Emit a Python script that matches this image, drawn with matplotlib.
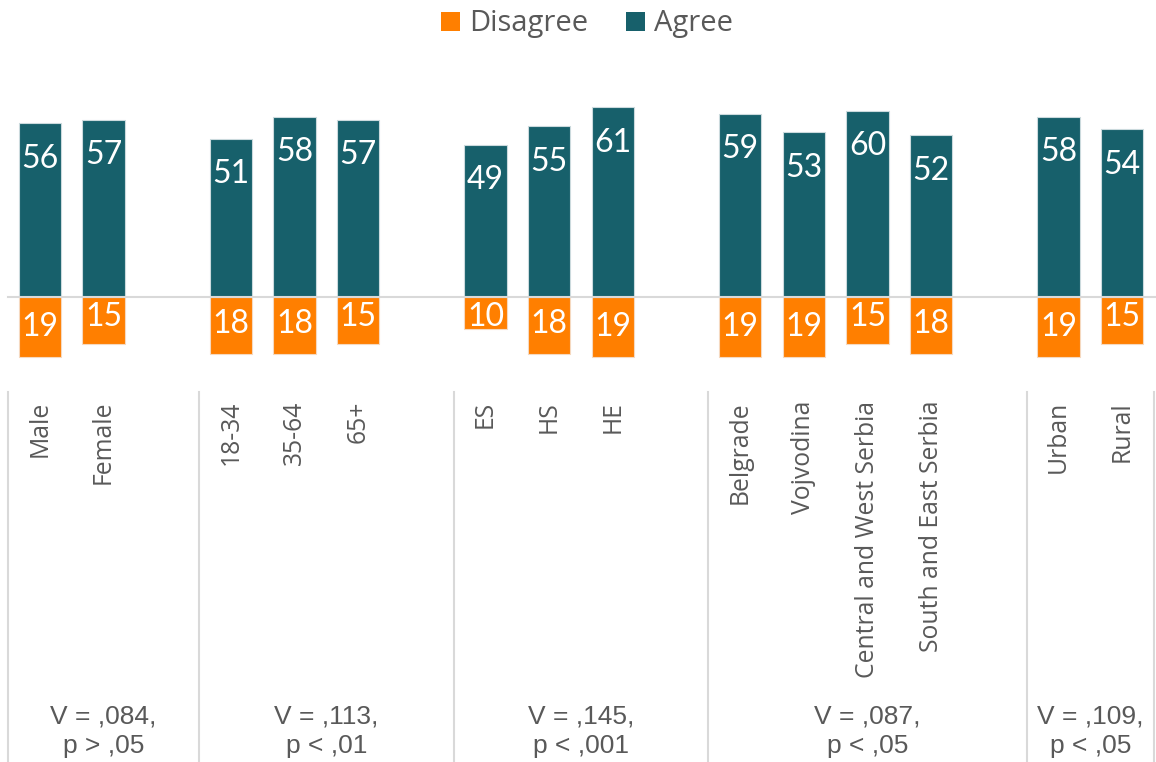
import matplotlib
matplotlib.use("Agg")
import matplotlib.pyplot as plt
from matplotlib.lines import Line2D
from matplotlib.patches import Patch
from matplotlib.transforms import blended_transform_factory

# Survey results by demographic group (percent)
categories = ["Male", "Female",
              "18-34", "35-64", "65+",
              "ES", "HS", "HE",
              "Belgrade", "Vojvodina", "Central and West Serbia", "South and East Serbia",
              "Urban", "Rural"]
group_sizes = [2, 3, 3, 4, 2]
agree = [56, 57, 51, 58, 57, 49, 55, 61, 59, 53, 60, 52, 58, 54]
disagree = [19, 15, 18, 18, 15, 10, 18, 19, 19, 19, 15, 18, 19, 15]
stats = ["V = ,084,\np > ,05", "V = ,113,\np < ,01", "V = ,145,\np < ,001",
         "V = ,087,\np < ,05", "V = ,109,\np < ,05"]

TEAL = "#17606B"
ORANGE = "#FF7F00"
TEXT = "#595959"
GRID = "#D9D9D9"

W, H = 1156, 762
fig = plt.figure(figsize=(W / 100, H / 100), dpi=100)
ax_left, ax_right = 8, 1154
ax_top, ax_bot = 75, 390
ax = fig.add_axes([ax_left / W, 1 - ax_bot / H, (ax_right - ax_left) / W, (ax_bot - ax_top) / H])

# x positions: one empty slot between groups
xpos = []
group_starts = []
pos = 0
for n in group_sizes:
    group_starts.append(pos)
    for _ in range(n):
        xpos.append(pos)
        pos += 1
    pos += 1
last = xpos[-1]

width = 0.66
ax.bar(xpos, agree, width=width, color=TEAL, edgecolor="#CBDADD", linewidth=0.8, zorder=2)
ax.bar(xpos, [-d for d in disagree], width=width, color=ORANGE, edgecolor="#F5D9C0",
       linewidth=0.8, zorder=2)

ax.set_xlim(-0.5, last + 0.5)
ax.set_ylim(-29.7, 71.4)
ax.axhline(0, color=GRID, lw=1.5, zorder=3, xmin=0, xmax=1.01, clip_on=False)
ax.axis("off")

lab_font = dict(family="Lato", size=23, color="white", ha="center", va="center", zorder=4)
for x, a, d in zip(xpos, agree, disagree):
    ax.text(x, a - 11.4, str(a), **lab_font)
    ax.text(x, min(-d + 9.5, -6.2), str(d), **lab_font)

# category labels and group separators below the axis
xf = blended_transform_factory(ax.transData, fig.transFigure)
for x, c in zip(xpos, categories):
    fig.text(x, 1 - 401 / H, c, transform=xf, rotation=90, ha="center", va="top",
             family="Open Sans", size=17.8, color=TEXT)

seps = [s - 0.5 for s in group_starts] + [last + 0.5]
for s in seps:
    fig.add_artist(Line2D([s, s], [1 - 392 / H, 0], transform=xf, color=GRID, lw=1.5))

for l, r, st in zip(seps[:-1], seps[1:], stats):
    fig.text((l + r) / 2, 1 - 731 / H, st, transform=xf, ha="center", va="center",
             family="Liberation Sans", size=19, color=TEXT, linespacing=1.3)

handles = [Patch(facecolor=ORANGE, edgecolor="none", label="Disagree"),
           Patch(facecolor=TEAL, edgecolor="none", label="Agree")]
fig.legend(handles=handles, loc="center", bbox_to_anchor=(587 / W, 1 - 24 / H), ncol=2,
           frameon=False, prop={"family": "Open Sans", "size": 21},
           labelcolor=TEXT, handlelength=0.65, handleheight=0.65,
           handletextpad=0.3, columnspacing=1.3, borderpad=0)

fig.savefig("out.png", dpi=100, facecolor="white")
